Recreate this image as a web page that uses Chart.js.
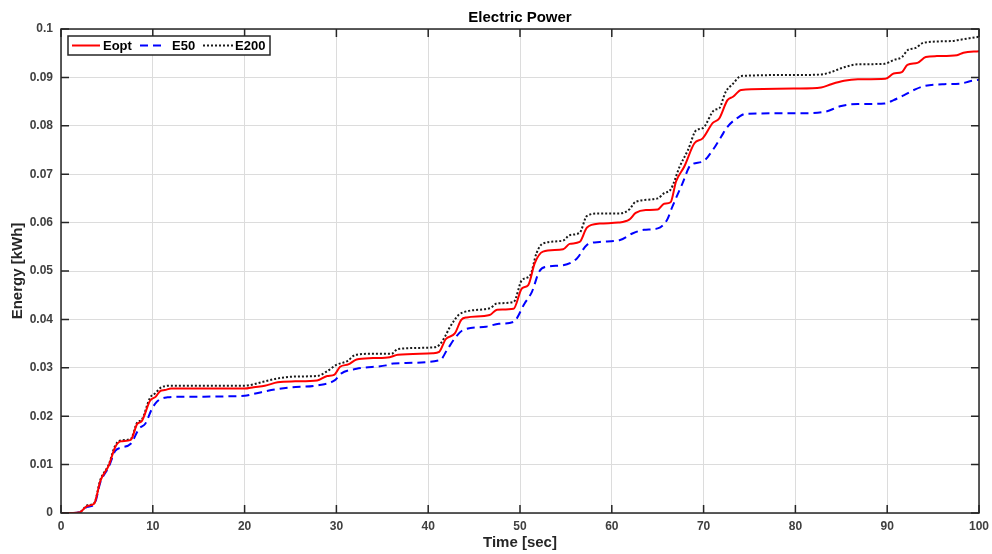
<!DOCTYPE html>
<html>
<head>
<meta charset="utf-8">
<script src="https://cdn.jsdelivr.net/npm/chart.js@4/dist/chart.umd.min.js"></script>
<style>
  html, body { margin: 0; padding: 0; background: #fff; }
  #wrap { width: 992px; height: 554px; position: relative; }
</style>
</head>
<body>
<div id="wrap"><canvas id="chart"></canvas></div>
<script>
// time stamps [sec] and cumulative energy [kWh] for each run
var eoptTime = [0, 1.3, 2, 2.9, 3.6, 4.3, 5.2, 5.9, 6.5, 7.6,
  8.3, 8.8, 9.7, 10.3, 10.8, 11.3, 12, 20, 21, 22.2,
  23.6, 25.5, 27.9, 29, 29.8, 30.4, 31.3, 32.2, 34, 35.8,
  36.7, 40.5, 41.2, 41.9, 42.9, 43.6, 44.2, 46.7, 47.5, 49.3,
  50.2, 50.9, 51.6, 52.5, 54.7, 55.4, 56.5, 57.3, 58.7, 60.7,
  61.9, 62.6, 63.7, 65, 65.7, 66.4, 67, 67.9, 69, 69.9,
  71, 71.7, 72.6, 73.2, 74.1, 80.4, 82.8, 83.9, 85.3, 86.8,
  89.8, 90.7, 91.6, 92.2, 93.3, 94.2, 95.4, 97.6, 98.3, 100];
var eoptEnergy = [0, 0, 0.0001, 0.0015, 0.0019, 0.0067, 0.0098, 0.0136, 0.0148, 0.0151,
  0.0184, 0.019, 0.0232, 0.024, 0.0252, 0.0254, 0.0257, 0.0257, 0.026, 0.0263,
  0.027, 0.0272, 0.0274, 0.0283, 0.0286, 0.0302, 0.0307, 0.0317, 0.032, 0.0322,
  0.0327, 0.033, 0.0333, 0.0359, 0.0371, 0.0399, 0.0404, 0.0409, 0.042, 0.0422,
  0.0464, 0.0471, 0.0516, 0.054, 0.0545, 0.0556, 0.056, 0.059, 0.0598, 0.06,
  0.0606, 0.062, 0.0626, 0.0627, 0.0639, 0.0642, 0.0685, 0.0716, 0.0764, 0.0774,
  0.0806, 0.0815, 0.0853, 0.086, 0.0874, 0.0877, 0.0879, 0.0886, 0.0893, 0.0896,
  0.0897, 0.0908, 0.0911, 0.0926, 0.093, 0.0942, 0.0944, 0.0946, 0.0951, 0.0954];

var e50Time = [0, 1.3, 2, 2.9, 3.6, 4.3, 5.2, 5.9, 6.5, 7.6,
  8.5, 9.2, 9.9, 10.4, 10.9, 11.6, 12.5, 20, 21, 22.9,
  24.7, 28, 29.8, 30.5, 32.2, 35.4, 36.2, 41.3, 42, 42.9,
  43.8, 46.3, 47.7, 49.3, 50.5, 51.3, 52.1, 53, 54.7, 56.2,
  57.3, 58.7, 60.9, 62.3, 63.5, 65, 66, 66.6, 67.7, 68.6,
  69.9, 71, 71.9, 72.6, 73.9, 74.6, 80.4, 83.2, 85, 86.8,
  89.7, 90.7, 91.8, 92.9, 94, 96.2, 98, 99, 100];
var e50Energy = [0, 0, 0.0001, 0.0013, 0.0017, 0.0064, 0.0095, 0.0128, 0.0135, 0.0143,
  0.0174, 0.0185, 0.0215, 0.0229, 0.0236, 0.0239, 0.024, 0.0242, 0.0246, 0.0254,
  0.0259, 0.0264, 0.0274, 0.0288, 0.0298, 0.0305, 0.0309, 0.0316, 0.0335, 0.0361,
  0.0378, 0.0385, 0.0391, 0.0395, 0.0433, 0.0457, 0.0499, 0.0509, 0.0512, 0.0526,
  0.0554, 0.056, 0.0564, 0.0578, 0.0585, 0.0588, 0.0605, 0.0633, 0.0681, 0.0719,
  0.0726, 0.075, 0.0777, 0.0798, 0.0819, 0.0825, 0.0826, 0.0829, 0.0841, 0.0845,
  0.0846, 0.0853, 0.0863, 0.0874, 0.0882, 0.0886, 0.0887, 0.0892, 0.0895];

var e200Time = [0, 1.3, 2, 2.9, 3.6, 4.3, 5.2, 5.9, 6.5, 7.6,
  8.3, 8.8, 9.7, 10.3, 10.8, 11.3, 12, 20, 22, 23.6,
  25.5, 27.9, 29, 30, 31.2, 32.1, 34, 36, 36.7, 40.5,
  41.2, 41.9, 42.3, 43.6, 46.7, 47.5, 49.3, 50.2, 51.1, 51.8,
  52.5, 54.7, 55.4, 56.5, 57.3, 58.7, 60.9, 61.9, 62.6, 65,
  65.7, 66.4, 67.4, 68.3, 69.2, 69.9, 71.2, 71.7, 72.4, 73.2,
  74.1, 80.4, 82.8, 83.9, 85.3, 86.8, 89.7, 90.7, 91.6, 92.2,
  93.1, 94, 96.9, 98, 99, 100];
var e200Energy = [0, 0, 0.0001, 0.0016, 0.002, 0.0069, 0.01, 0.0139, 0.015, 0.0153,
  0.0187, 0.0193, 0.0238, 0.0248, 0.0258, 0.0262, 0.0263, 0.0263, 0.0271, 0.0278,
  0.0282, 0.0283, 0.0293, 0.0306, 0.0314, 0.0327, 0.0329, 0.0329, 0.0339, 0.0342,
  0.0347, 0.0367, 0.0382, 0.0413, 0.0423, 0.0433, 0.0436, 0.0481, 0.0491, 0.0537,
  0.0557, 0.0563, 0.0574, 0.0579, 0.0614, 0.0619, 0.0619, 0.0627, 0.0643, 0.065,
  0.0661, 0.0668, 0.0716, 0.075, 0.0791, 0.0795, 0.0833, 0.0836, 0.087, 0.0887,
  0.0903, 0.0905, 0.0906, 0.0911, 0.0921, 0.0927, 0.0928, 0.0936, 0.0942, 0.0956,
  0.0961, 0.0972, 0.0975, 0.0978, 0.0981, 0.0984];

var xTicks = [0, 10, 20, 30, 40, 50, 60, 70, 80, 90, 100];
var yTicks = [0, 0.01, 0.02, 0.03, 0.04, 0.05, 0.06, 0.07, 0.08, 0.09, 0.1];

var FONT = "'Liberation Sans', Arial, Helvetica, sans-serif";
var AXIS_COLOR = "#262626";
var TICK_COLOR = "#404040";

var SERIES = [
  { label: "Eopt", t: eoptTime, v: eoptEnergy, color: "#ff0000", dash: [] },
  { label: "E50", t: e50Time, v: e50Energy, color: "#0000ff", dash: [8, 5] },
  { label: "E200", t: e200Time, v: e200Energy, color: "#1a1a1a", dash: [2, 2] },
];

function toPoints(t, v) {
  return t.map(function (x, i) { return { x: x, y: v[i] }; });
}

// box, inward tick marks, title and legend drawn on top of the plot
var framePlugin = {
  id: "frame",
  afterDraw: function (chart) {
    var ctx = chart.ctx;
    var a = chart.chartArea;
    var xs = chart.scales.x, ys = chart.scales.y;
    var len = 8;
    ctx.save();
    ctx.strokeStyle = AXIS_COLOR;
    ctx.lineWidth = 1.5;
    ctx.setLineDash([]);
    ctx.strokeRect(a.left, a.top, a.right - a.left, a.bottom - a.top);
    ctx.beginPath();
    xTicks.forEach(function (v) {
      var px = xs.getPixelForValue(v);
      ctx.moveTo(px, a.bottom); ctx.lineTo(px, a.bottom - len);
      ctx.moveTo(px, a.top); ctx.lineTo(px, a.top + len);
    });
    yTicks.forEach(function (v) {
      var py = ys.getPixelForValue(v);
      ctx.moveTo(a.left, py); ctx.lineTo(a.left + len, py);
      ctx.moveTo(a.right, py); ctx.lineTo(a.right - len, py);
    });
    ctx.stroke();

    ctx.fillStyle = "#000";
    ctx.font = "bold 15px " + FONT;
    ctx.textAlign = "center";
    ctx.textBaseline = "alphabetic";
    ctx.fillText("Electric Power", (a.left + a.right) / 2, a.top - 7);

    // legend
    var lx = a.left + 7, ly = a.top + 7, lw = 202, lh = 19;
    ctx.fillStyle = "#fff";
    ctx.fillRect(lx, ly, lw, lh);
    ctx.strokeStyle = AXIS_COLOR;
    ctx.lineWidth = 1.5;
    ctx.strokeRect(lx, ly, lw, lh);
    var cy = ly + lh / 2;
    var items = [
      { s: SERIES[0], x0: lx + 4, x1: lx + 32, tx: lx + 35 },
      { s: SERIES[1], x0: lx + 72, x1: lx + 97, tx: lx + 104 },
      { s: SERIES[2], x0: lx + 135, x1: lx + 165, tx: lx + 167 },
    ];
    ctx.font = "bold 13px " + FONT;
    ctx.textBaseline = "middle";
    items.forEach(function (it) {
      ctx.beginPath();
      ctx.strokeStyle = it.s.color;
      ctx.lineWidth = 2;
      ctx.setLineDash(it.s.dash);
      ctx.moveTo(it.x0, cy);
      ctx.lineTo(it.x1, cy);
      ctx.stroke();
      ctx.setLineDash([]);
      ctx.fillStyle = "#000";
      ctx.textAlign = "left";
      ctx.fillText(it.s.label, it.tx, cy + 1);
    });
    ctx.restore();
  },
};

new Chart(document.getElementById("chart"), {
  type: "line",
  data: {
    datasets: SERIES.map(function (s) {
      return {
        label: s.label,
        data: toPoints(s.t, s.v),
        borderColor: s.color,
        borderWidth: 2,
        borderDash: s.dash,
        pointRadius: 0,
        fill: false,
        cubicInterpolationMode: "monotone",
      };
    }),
  },
  options: {
    responsive: true,
    maintainAspectRatio: false,
    animation: false,
    layout: { padding: { top: 29, right: 13, left: 0, bottom: 0 } },
    plugins: {
      legend: { display: false },
      title: { display: false },
      tooltip: { enabled: false },
    },
    scales: {
      x: {
        type: "linear",
        min: 0,
        max: 100,
        afterBuildTicks: function (axis) {
          axis.ticks = xTicks.map(function (v) { return { value: v }; });
        },
        afterFit: function (axis) {
          axis.height = 41;
          axis.paddingLeft = 0;
          axis.paddingRight = 0;
        },
        ticks: {
          padding: 6,
          color: TICK_COLOR,
          font: { family: FONT, size: 12, weight: "bold" },
          maxRotation: 0,
        },
        grid: { color: "#dcdcdc", lineWidth: 1, drawTicks: false },
        border: { display: false },
        title: {
          display: true,
          text: "Time [sec]",
          color: AXIS_COLOR,
          font: { family: FONT, size: 15, weight: "bold" },
          padding: { top: 0, bottom: 2 },
        },
      },
      y: {
        type: "linear",
        min: 0,
        max: 0.1,
        afterBuildTicks: function (axis) {
          axis.ticks = yTicks.map(function (v) { return { value: v }; });
        },
        afterFit: function (axis) {
          axis.width = 61;
          axis.paddingTop = 0;
          axis.paddingBottom = 0;
        },
        ticks: {
          padding: 8,
          color: TICK_COLOR,
          font: { family: FONT, size: 12, weight: "bold" },
          callback: function (v) { return String(+v.toFixed(2)); },
        },
        grid: { color: "#dcdcdc", lineWidth: 1, drawTicks: false },
        border: { display: false },
        title: {
          display: true,
          text: "Energy [kWh]",
          color: AXIS_COLOR,
          font: { family: FONT, size: 15, weight: "bold" },
          padding: { top: 9, bottom: 0 },
        },
      },
    },
  },
  plugins: [framePlugin],
});
</script>
</body>
</html>
